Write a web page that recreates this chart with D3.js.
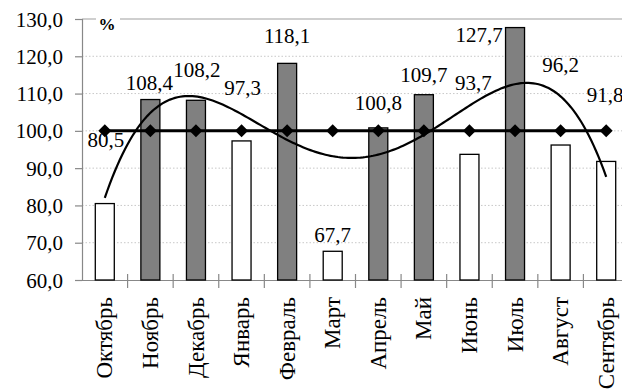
<!DOCTYPE html>
<html>
<head>
<meta charset="utf-8">
<script src="https://cdn.jsdelivr.net/npm/d3@7"></script>
<style>
  html, body { margin: 0; padding: 0; background: #fff; }
</style>
</head>
<body>
<svg id="chart" width="622" height="392"></svg>
<script>
// Monthly index, % of the base level (100)
const months = ["Октябрь", "Ноябрь", "Декабрь", "Январь", "Февраль", "Март",
                "Апрель", "Май", "Июнь", "Июль", "Август", "Сентябрь"];
const values = [80.5, 108.4, 108.2, 97.3, 118.1, 67.7, 100.8, 109.7, 93.7, 127.7, 96.2, 91.8];
const baseline = [100, 100, 100, 100, 100, 100, 100, 100, 100, 100, 100, 100];
const yTicks = [60, 70, 80, 90, 100, 110, 120, 130];

// Where each value label sits (on the value axis) and its sideways shift in px
const labelLevel = [95.7, 111.0, 114.5, 109.7, 123.6, 70.2, 105.6, 113.1, 111.0, 123.9, 115.8, 107.8];
const labelShift = [1, -1, 1, 1, 0, 0, 0, 0, 4, -36, 0, -1];

const serif = "Liberation Serif";
const fmt = v => d3.format(".1f")(v).replace(".", ",");

const svg = d3.select("#chart");
const plotL = 82, plotR = 629, plotT = 19, plotB = 280;

const x = d3.scaleBand().domain(months).range([plotL, plotR]).padding(0);
const y = d3.scaleLinear().domain([60, 130]).range([plotB, plotT]);
const cx = m => x(m) + x.bandwidth() / 2;

// Grid lines
svg.append("g").selectAll("line").data(yTicks.filter(t => t > 60 && t < 130)).join("line")
  .attr("x1", plotL).attr("x2", 622)
  .attr("y1", d => y(d)).attr("y2", d => y(d))
  .attr("stroke", "#c8c8c8").attr("stroke-width", 1).attr("stroke-dasharray", "1.5,2");

// Top frame line
svg.append("line").attr("x1", plotL).attr("x2", 622).attr("y1", y(130)).attr("y2", y(130))
  .attr("stroke", "#a0a0a0").attr("stroke-width", 1.2);

// Y axis
const yAxis = d3.axisLeft(y).tickValues(yTicks).tickSize(7).tickPadding(12).tickFormat(fmt);
const gy = svg.append("g").attr("transform", `translate(${plotL},0)`).call(yAxis);
gy.select(".domain").attr("stroke", "#888").attr("stroke-width", 1.2);
gy.selectAll(".tick line").attr("stroke", "#888").attr("stroke-width", 1.2);
gy.selectAll(".tick text").attr("fill", "#000").attr("dy", "0.34em")
  .attr("font-family", serif).attr("font-size", 21);

// X axis
const xAxis = d3.axisBottom(x).tickSize(0).tickFormat("");
const gx = svg.append("g").attr("transform", `translate(0,${plotB})`).call(xAxis);
gx.select(".domain").attr("stroke", "#888").attr("stroke-width", 1.2);
gx.selectAll(".tick").remove();
// category separators
svg.append("g").selectAll("line").data(months.slice(1)).join("line")
  .attr("x1", d => x(d)).attr("x2", d => x(d))
  .attr("y1", plotB - 6).attr("y2", plotB + 8)
  .attr("stroke", "#888").attr("stroke-width", 1.2);

// Month labels, rotated
svg.append("g").selectAll("text").data(months).join("text")
  .attr("transform", d => `translate(${cx(d)},${plotB + 17}) rotate(-90)`)
  .attr("text-anchor", "end").attr("dy", "0.33em")
  .attr("font-family", serif).attr("font-size", 23).attr("fill", "#000")
  .text(d => d);

// Bars
const barW = 19;
svg.append("g").selectAll("rect").data(months).join("rect")
  .attr("x", d => cx(d) - barW / 2)
  .attr("width", barW)
  .attr("y", (d, i) => y(values[i]))
  .attr("height", (d, i) => y(60) - y(values[i]))
  .attr("fill", (d, i) => values[i] > 100 ? "#808080" : "#fff")
  .attr("stroke", "#000").attr("stroke-width", 1.3);

// Base level line with diamond markers
svg.append("path")
  .datum(months)
  .attr("d", d3.line().x(d => cx(d)).y((d, i) => y(baseline[i])))
  .attr("fill", "none").attr("stroke", "#000").attr("stroke-width", 3);
svg.append("g").selectAll("path").data(months).join("path")
  .attr("transform", (d, i) => `translate(${cx(d)},${y(baseline[i])})`)
  .attr("d", "M0,-6.5L6.5,0L0,6.5L-6.5,0Z")
  .attr("fill", "#000");

// Polynomial trend line, 4th order least squares fit of the monthly values
function polyFit(xs, ys, order) {
  const n = order + 1;
  const A = Array.from({length: n}, () => new Array(n + 1).fill(0));
  xs.forEach((xv, k) => {
    for (let i = 0; i < n; i++) {
      for (let j = 0; j < n; j++) A[i][j] += Math.pow(xv, i + j);
      A[i][n] += ys[k] * Math.pow(xv, i);
    }
  });
  for (let c = 0; c < n; c++) {
    let p = c;
    for (let r = c + 1; r < n; r++) if (Math.abs(A[r][c]) > Math.abs(A[p][c])) p = r;
    [A[c], A[p]] = [A[p], A[c]];
    for (let r = 0; r < n; r++) {
      if (r === c) continue;
      const f = A[r][c] / A[c][c];
      for (let k = c; k <= n; k++) A[r][k] -= f * A[c][k];
    }
  }
  const coef = A.map((row, i) => row[n] / row[i]);
  return t => coef.reduce((s, a, i) => s + a * Math.pow(t, i), 0);
}
const ts = months.map((d, i) => (i - 5.5) / 5.5);
const tx = d3.scaleLinear().domain([-1, 1]).range([cx(months[0]), cx(months[11])]);
const trend = polyFit(ts, values, 4);
svg.append("path")
  .datum(d3.range(0, 201).map(k => -1 + k / 100))
  .attr("d", d3.line().x(t => tx(t)).y(t => y(trend(t))))
  .attr("fill", "none").attr("stroke", "#000").attr("stroke-width", 2.2);

// Value labels
svg.append("g").selectAll("text").data(months).join("text")
  .attr("x", (d, i) => cx(d) + labelShift[i])
  .attr("y", (d, i) => y(labelLevel[i]))
  .attr("text-anchor", "middle")
  .attr("font-family", serif).attr("font-size", 21).attr("fill", "#000")
  .text((d, i) => fmt(values[i]));

// Unit label on the top frame
const unit = svg.append("g").attr("transform", `translate(107,${y(130)})`);
unit.append("rect").attr("x", -11).attr("y", -8).attr("width", 24).attr("height", 16).attr("fill", "#fff");
unit.append("text").attr("text-anchor", "middle").attr("y", 11)
  .attr("font-family", serif).attr("font-size", 17).attr("font-weight", "bold").text("%");
</script>
</body>
</html>
